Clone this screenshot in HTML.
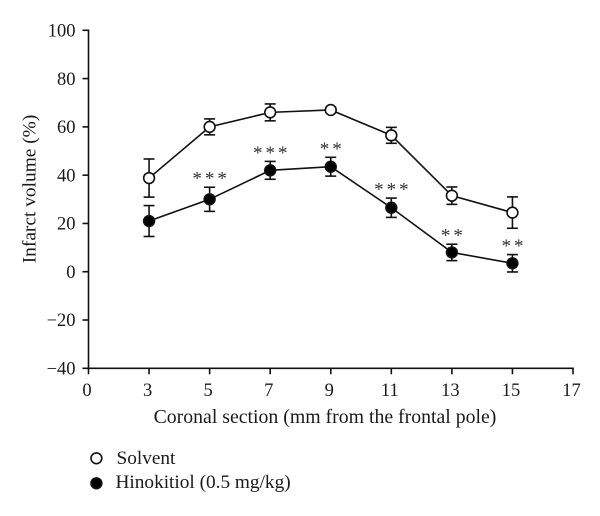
<!DOCTYPE html>
<html>
<head>
<meta charset="utf-8">
<style>
html,body{margin:0;padding:0;background:#fff;width:600px;height:516px;overflow:hidden}
svg{display:block}
text{font-family:"Liberation Serif",serif;fill:#1a1a1a}
</style>
</head>
<body>
<svg id="chart" width="600" height="516" viewBox="0 0 600 516" xmlns="http://www.w3.org/2000/svg"></svg>
<script>
const xTickLabels = ["0","3","5","7","9","11","13","15","17"];
const yTickValues = [100,80,60,40,20,0,-20,-40];
const sections = ["3","5","7","9","11","13","15"];
const solventValues = [38.8,60,66,67,56.5,31.5,24.5];
const solventErrors = [7.9,3.3,3.5,1,3.3,3.6,6.5];
const hinokitiolValues = [21,30,42,43.5,26.5,8,3.5];
const hinokitiolErrors = [6.4,5,3.7,3.9,4,3.4,3.6];
const significance = ["","***","***","**","***","**","**"];

const svg = document.getElementById('chart');
const NS = 'http://www.w3.org/2000/svg';
function yScale(v){ return 368.3 - (v + 40) * (338 / 140); }
function xScale(label){ return 88.5 + xTickLabels.indexOf(label) * (484.5 / (xTickLabels.length - 1)); }
function make(tag, attrs, name, parent){
  const el = document.createElementNS(NS, tag);
  for (const k in attrs) el.setAttribute(k, attrs[k]);
  
  
  (parent || svg).appendChild(el);
  return el;
}
const stroke = {stroke:'#111','stroke-width':1.6,fill:'none'};

make('line', Object.assign({x1:88.5,x2:88.5,y1:yScale(100)-0.8,y2:yScale(-40)+0.8}, stroke), 'y-axis-line');
make('line', Object.assign({x1:88.5,x2:xScale('17')+0.8,y1:yScale(-40),y2:yScale(-40)}, stroke), 'x-axis-line');

yTickValues.forEach(function(v){
  make('line', Object.assign({x1:82.5,x2:88.5,y1:yScale(v),y2:yScale(v)}, stroke), 'y-tick');
  const t = make('text', {x:75.5,y:yScale(v)+6.2,'text-anchor':'end','font-size':18.5}, 'y-tick-label');
  t.textContent = v < 0 ? '\u2212' + Math.abs(v) : String(v);
});
xTickLabels.forEach(function(l){
  const x = xScale(l);
  make('line', Object.assign({x1:x,x2:x,y1:yScale(-40),y2:yScale(-40)+6}, stroke), 'x-tick');
  const t = make('text', {x:x-1.5,y:396,'text-anchor':'middle','font-size':18.5}, 'x-tick-label');
  t.textContent = l;
});

const yTitle = make('text', {x:0,y:0,transform:'translate(35.5 189) rotate(-90)','text-anchor':'middle','font-size':19.4}, 'y-axis-title');
yTitle.textContent = 'Infarct volume (%)';
const xTitle = make('text', {x:325,y:423,'text-anchor':'middle','font-size':19.8}, 'x-axis-title');
xTitle.textContent = 'Coronal section (mm from the frontal pole)';

function drawSeries(values, errors, fill, name){
  const g = make('g', {}, name + '-series');
  const pts = values.map(function(v,i){ return xScale(sections[i]) + ',' + yScale(v); }).join(' ');
  make('polyline', Object.assign({points:pts}, stroke), name + '-line', g);
  values.forEach(function(v,i){
    const x = xScale(sections[i]);
    const top = yScale(v + errors[i]), bot = yScale(v - errors[i]);
    make('line', Object.assign({x1:x,x2:x,y1:top,y2:bot}, stroke), name + '-error-bar', g);
    make('line', Object.assign({x1:x-5.5,x2:x+5.5,y1:top,y2:top}, stroke), name + '-error-cap', g);
    make('line', Object.assign({x1:x-5.5,x2:x+5.5,y1:bot,y2:bot}, stroke), name + '-error-cap', g);
  });
  values.forEach(function(v,i){
    make('circle', {cx:xScale(sections[i]),cy:yScale(v),r:5.4,fill:fill,stroke:'#111','stroke-width':1.6}, name + '-point', g);
  });
}
drawSeries(solventValues, solventErrors, '#fff', 'solvent');
drawSeries(hinokitiolValues, hinokitiolErrors, '#000', 'hinokitiol');

significance.forEach(function(s,i){
  if (!s) return;
  const t = make('text', {x:xScale(sections[i])+1.5,y:yScale(hinokitiolValues[i]+hinokitiolErrors[i])-2.5,'text-anchor':'middle','font-size':19,'letter-spacing':'3px',style:'fill:#333'}, 'significance-marker');
  t.textContent = s;
});

make('circle', {cx:96.4,cy:458.3,r:5.4,fill:'#fff',stroke:'#111','stroke-width':1.6}, 'legend-solvent-marker');
const l1 = make('text', {x:116.5,y:464,'font-size':19.3}, 'legend-solvent-label');
l1.textContent = 'Solvent';
make('circle', {cx:96.4,cy:483.3,r:5.4,fill:'#000',stroke:'#111','stroke-width':1.6}, 'legend-hinokitiol-marker');
const l2 = make('text', {x:115.5,y:488,'font-size':19.3}, 'legend-hinokitiol-label');
l2.textContent = 'Hinokitiol (0.5 mg/kg)';
</script>
</body>
</html>
